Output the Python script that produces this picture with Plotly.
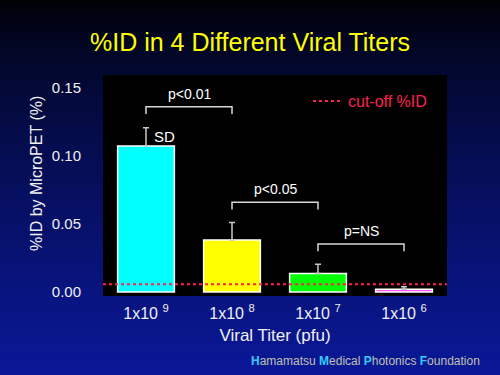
import plotly.graph_objects as go

# ---- data ----
titers = ["1x10 <sup>9</sup>", "1x10 <sup>8</sup>", "1x10 <sup>7</sup>", "1x10 <sup>6</sup>"]
pct_id = [0.1074, 0.0382, 0.0137, 0.0020]
sd = [0.0134, 0.0130, 0.0067, 0.0019]
bar_colors = ["#00ffff", "#ffff00", "#00ff00", "#ff55ff"]
cutoff = 0.0057
br_left = [0, 1, 2]
br_right = [1, 2, 3]
br_top = [0.1362, 0.0660, 0.0353]
br_drop = 0.0053
br_labels = ["p<0.01", "p<0.05", "p=NS"]

W, H = 500, 375
ML, MR, MT, MB = 103, 53, 75, 79
PW, PH = W - ML - MR, H - MT - MB

def px2paper_x(px):
    return (px - ML) / PW

def px2paper_y(py):
    return (H - MB - py) / PH

fig = go.Figure()

xs = list(range(len(titers)))
fig.add_trace(go.Bar(
    x=xs, y=pct_id, width=0.66,
    marker=dict(color=bar_colors, line=dict(color="white", width=1.5)),
    error_y=dict(type="data", array=sd, arrayminus=[0] * len(sd), symmetric=False,
                 color="#c8c8c8", thickness=1.5, width=3),
    showlegend=False, hoverinfo="skip",
))

fig.add_trace(go.Scatter(
    x=[-0.5, 3.5], y=[cutoff, cutoff], mode="lines",
    line=dict(color="#ff2050", width=2, dash="dot"),
    name="cut-off %ID", showlegend=True, hoverinfo="skip",
))

for l, r, t, lab in zip(br_left, br_right, br_top, br_labels):
    fig.add_trace(go.Scatter(
        x=[l, l, r, r], y=[t - br_drop, t, t, t - br_drop], mode="lines",
        line=dict(color="#d8d8d8", width=1.5), showlegend=False, hoverinfo="skip",
    ))
    fig.add_annotation(x=(l + r) / 2, y=t, text=lab, showarrow=False,
                       xanchor="center", yanchor="bottom", yshift=3,
                       font=dict(family="Arial, Liberation Sans", size=14, color="white"))

fig.add_annotation(x=0, y=pct_id[0] + sd[0] * 0.5, text="SD", showarrow=False,
                   xanchor="left", yanchor="middle", xshift=6,
                   font=dict(family="Arial, Liberation Sans", size=15, color="white"))

# background gradient (decorative)
shapes = []
N = 60
top_c = (0, 0, 0)
bot_c = (10, 24, 152)
for i in range(N):
    py0 = H * i / N
    py1 = H * (i + 1) / N + 0.5
    t = (i + 0.5) / N
    f = t ** 0.7
    c = tuple(int(round(a + (b - a) * f)) for a, b in zip(top_c, bot_c))
    shapes.append(dict(type="rect", xref="paper", yref="paper", layer="below",
                       x0=px2paper_x(-5), x1=px2paper_x(W + 5),
                       y0=px2paper_y(py1), y1=px2paper_y(py0),
                       line=dict(width=0), fillcolor="rgb(%d,%d,%d)" % c))
shapes.append(dict(type="rect", xref="paper", yref="paper", layer="below",
                   x0=0, x1=1, y0=0, y1=1, line=dict(width=0), fillcolor="black"))

fig.update_layout(
    width=W, height=H,
    margin=dict(l=ML, r=MR, t=MT, b=MB, pad=0),
    paper_bgcolor="#000000", plot_bgcolor="#000000",
    shapes=shapes,
    font=dict(family="Arial, Liberation Sans", color="white"),
    showlegend=True,
    legend=dict(x=px2paper_x(308), y=px2paper_y(84), xanchor="left", yanchor="top",
                bgcolor="rgba(0,0,0,0)", font=dict(size=16, color="#ff2050"),
                itemwidth=30),
    xaxis=dict(range=[-0.5, 3.5], tickvals=xs, ticktext=titers, showgrid=False,
               zeroline=False, showline=False, ticks="",
               tickfont=dict(size=16, color="#f0f0f0"), ticklabelstandoff=6,
               title=dict(text="Viral Titer (pfu)", font=dict(size=17, color="#f0f0f0"),
                          standoff=8)),
    yaxis=dict(range=[-0.0029, 0.1596], tickvals=[0, 0.05, 0.10, 0.15],
               tickformat=".2f", showgrid=False, zeroline=False, showline=False,
               ticks="", ticklabelstandoff=21,
               tickfont=dict(size=15, color="#f0f0f0")),
)

fig.add_annotation(xref="paper", yref="paper", x=px2paper_x(36), y=px2paper_y(174),
                   xanchor="center", yanchor="middle",
                   text="%ID by MicroPET (%)", textangle=-90, showarrow=False,
                   font=dict(size=16, color="#f0f0f0"))

fig.add_annotation(xref="paper", yref="paper", x=px2paper_x(250), y=px2paper_y(42),
                   xanchor="center", yanchor="middle",
                   text="%ID in 4 Different Viral Titers", showarrow=False,
                   font=dict(size=25, color="#ffff00"))

footer = ("<span style='color:#33ccff'><b>H</b></span>amamatsu "
          "<span style='color:#33ccff'><b>M</b></span>edical "
          "<span style='color:#33ccff'><b>P</b></span>hotonics "
          "<span style='color:#33ccff'><b>F</b></span>oundation")
fig.add_annotation(xref="paper", yref="paper", x=px2paper_x(482), y=px2paper_y(361),
                   xanchor="right", yanchor="middle", text=footer, showarrow=False,
                   font=dict(size=12, color="#c0c0b0"))

fig.write_html("out.html", config={"displayModeBar": False},
               post_script="document.body.style.margin='0';")
